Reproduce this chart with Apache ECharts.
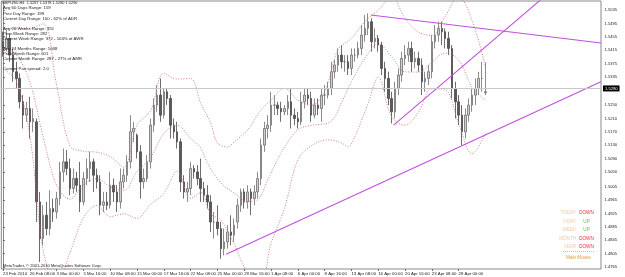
<!DOCTYPE html>
<html>
<head>
<meta charset="utf-8">
<script src="https://cdn.jsdelivr.net/npm/echarts@6/dist/echarts.min.js"></script>
<style>
html, body { margin: 0; padding: 0; background: #fff; }
#chart { width: 625px; height: 277px; }
</style>
</head>
<body>
<div id="chart"></div>
<script>
// GBPUSD, 8-hour bars (first bar 23 Feb 16:00)
var opens = [
  1.5440,1.5420,1.5450,1.5400,1.5350,1.5330,1.5260,1.5220,1.5240,1.5200,
  1.5200,1.4960,1.4850,1.4920,1.4880,1.4940,1.4930,1.4970,1.5050,1.5080,
  1.5060,1.5000,1.5030,1.5010,1.4960,1.5030,1.5060,1.5080,1.5040,1.5020,
  1.4950,1.4960,1.4950,1.5010,1.4990,1.4960,1.5020,1.5040,1.5080,1.5170,
  1.5160,1.5110,1.5020,1.5030,1.5080,1.5190,1.5250,1.5280,1.5220,1.5290,
  1.5270,1.5190,1.5170,1.5140,1.5020,1.4990,1.5000,1.5060,1.5050,1.5030,
  1.5000,1.4980,1.4960,1.4900,1.4900,1.4880,1.4820,1.4840,1.4870,1.4860,
  1.4900,1.4950,1.4990,1.4960,1.4990,1.4970,1.4990,1.5030,1.5130,1.5180,
  1.5190,1.5250,1.5250,1.5240,1.5230,1.5240,1.5260,1.5220,1.5210,1.5200,
  1.5260,1.5280,1.5270,1.5220,1.5250,1.5240,1.5280,1.5280,1.5300,1.5350,
  1.5370,1.5400,1.5380,1.5380,1.5360,1.5400,1.5400,1.5420,1.5460,1.5480,
  1.5500,1.5440,1.5450,1.5430,1.5360,1.5330,1.5270,1.5230,1.5300,1.5340,
  1.5390,1.5400,1.5420,1.5380,1.5390,1.5370,1.5320,1.5330,1.5350,1.5440,
  1.5460,1.5480,1.5470,1.5450,1.5420,1.5300,1.5260,1.5220,1.5170,1.5220,
  1.5250,1.5280,1.5300,1.5330,1.5287
];
var highs = [
  1.5470,1.5475,1.5465,1.5420,1.5380,1.5345,1.5280,1.5260,1.5275,1.5240,
  1.5210,1.4990,1.4950,1.4960,1.4995,1.4970,1.4990,1.5080,1.5120,1.5115,
  1.5090,1.5060,1.5050,1.5080,1.5050,1.5090,1.5110,1.5090,1.5060,1.5040,
  1.4990,1.4990,1.5050,1.5030,1.5010,1.5060,1.5060,1.5100,1.5220,1.5200,
  1.5165,1.5130,1.5060,1.5100,1.5210,1.5270,1.5310,1.5330,1.5300,1.5300,
  1.5280,1.5210,1.5200,1.5150,1.5040,1.5020,1.5080,1.5070,1.5070,1.5090,
  1.5020,1.5010,1.4980,1.4930,1.4950,1.4900,1.4880,1.4890,1.4920,1.4910,
  1.4970,1.5000,1.5000,1.5010,1.5000,1.5010,1.5050,1.5150,1.5200,1.5220,
  1.5290,1.5280,1.5260,1.5260,1.5250,1.5280,1.5300,1.5240,1.5230,1.5290,
  1.5300,1.5300,1.5290,1.5270,1.5270,1.5300,1.5310,1.5320,1.5380,1.5385,
  1.5420,1.5430,1.5400,1.5400,1.5420,1.5420,1.5440,1.5490,1.5520,1.5525,
  1.5510,1.5480,1.5460,1.5440,1.5380,1.5350,1.5290,1.5320,1.5360,1.5410,
  1.5430,1.5440,1.5440,1.5410,1.5410,1.5390,1.5350,1.5370,1.5460,1.5490,
  1.5500,1.5500,1.5480,1.5470,1.5430,1.5320,1.5280,1.5250,1.5240,1.5270,
  1.5300,1.5330,1.5350,1.5380,1.5378
];
var lows = [
  1.5395,1.5410,1.5380,1.5320,1.5300,1.5240,1.5180,1.5200,1.5150,1.5170,
  1.4900,1.4780,1.4830,1.4860,1.4860,1.4900,1.4910,1.4950,1.5020,1.5040,
  1.4980,1.4985,1.4990,1.4930,1.4950,1.5010,1.5020,1.4990,1.5000,1.4920,
  1.4930,1.4935,1.4940,1.4960,1.4930,1.4940,1.5000,1.5020,1.5060,1.5140,
  1.5090,1.4970,1.5000,1.5020,1.5060,1.5170,1.5230,1.5200,1.5210,1.5250,
  1.5150,1.5150,1.5120,1.4990,1.4970,1.4960,1.4980,1.5030,1.5010,1.4960,
  1.4960,1.4940,1.4870,1.4850,1.4860,1.4790,1.4800,1.4820,1.4830,1.4840,
  1.4880,1.4930,1.4940,1.4940,1.4920,1.4950,1.4970,1.5010,1.5110,1.5150,
  1.5170,1.5220,1.5220,1.5200,1.5220,1.5220,1.5180,1.5190,1.5180,1.5190,
  1.5240,1.5250,1.5200,1.5210,1.5220,1.5200,1.5250,1.5270,1.5280,1.5330,
  1.5350,1.5360,1.5350,1.5340,1.5340,1.5380,1.5390,1.5400,1.5440,1.5460,
  1.5410,1.5420,1.5410,1.5340,1.5290,1.5250,1.5195,1.5210,1.5280,1.5320,
  1.5370,1.5380,1.5350,1.5360,1.5350,1.5280,1.5290,1.5310,1.5330,1.5420,
  1.5440,1.5430,1.5420,1.5400,1.5270,1.5210,1.5190,1.5130,1.5150,1.5200,
  1.5230,1.5250,1.5280,1.5290,1.5280
];
var closes = [
  1.5420,1.5450,1.5400,1.5350,1.5330,1.5260,1.5220,1.5240,1.5200,1.5210,
  1.4960,1.4850,1.4920,1.4880,1.4940,1.4930,1.4970,1.5050,1.5080,1.5060,
  1.5000,1.5030,1.5010,1.4960,1.5030,1.5060,1.5080,1.5040,1.5020,1.4950,
  1.4960,1.4950,1.5010,1.4990,1.4960,1.5020,1.5040,1.5080,1.5170,1.5180,
  1.5110,1.5020,1.5030,1.5080,1.5190,1.5250,1.5280,1.5220,1.5290,1.5270,
  1.5190,1.5170,1.5140,1.5020,1.4990,1.5000,1.5060,1.5050,1.5030,1.5000,
  1.4980,1.4960,1.4900,1.4900,1.4880,1.4820,1.4840,1.4870,1.4860,1.4890,
  1.4950,1.4990,1.4960,1.4990,1.4970,1.4990,1.5030,1.5130,1.5180,1.5190,
  1.5250,1.5250,1.5240,1.5230,1.5240,1.5260,1.5220,1.5210,1.5200,1.5260,
  1.5280,1.5270,1.5220,1.5250,1.5240,1.5280,1.5280,1.5300,1.5350,1.5370,
  1.5400,1.5380,1.5380,1.5360,1.5400,1.5400,1.5420,1.5460,1.5480,1.5500,
  1.5440,1.5450,1.5430,1.5360,1.5330,1.5270,1.5230,1.5300,1.5340,1.5390,
  1.5400,1.5420,1.5380,1.5390,1.5370,1.5320,1.5330,1.5350,1.5440,1.5460,
  1.5480,1.5470,1.5450,1.5420,1.5300,1.5260,1.5220,1.5170,1.5220,1.5250,
  1.5280,1.5300,1.5330,1.5330,1.5290
];

// bollinger bands, [bar, price] read every few bars
var bandUpper = [
  [0,1.5480],[4,1.5480],[8,1.5480],[12,1.5494],[16,1.5310],[20,1.5128],[24,1.5112],
  [28,1.5109],[32,1.5096],[36,1.5064],[40,1.5191],[44,1.5232],[48,1.5345],[52,1.5328],
  [56,1.5330],[59,1.5256],[62,1.5196],[64,1.5137],[67,1.5125],[69,1.5140],[73,1.5176],
  [77,1.5235],[80,1.5265],[84,1.5300],[88,1.5265],[92,1.5250],[96,1.5290],[100,1.5416],
  [104,1.5450],[108,1.5500],[112,1.5534],[116,1.5575],[120,1.5510],[124,1.5469],
  [128,1.5459],[132,1.5516],[136,1.5575],[140,1.5504],[144,1.5365]
];
var bandMiddle = [
  [0,1.5420],[4,1.5400],[8,1.5320],[12,1.5154],[16,1.5010],[20,1.4968],[24,1.5012],
  [28,1.5029],[32,1.5006],[36,1.4994],[40,1.5051],[44,1.5092],[48,1.5165],[52,1.5190],
  [56,1.5150],[59,1.5122],[61,1.5077],[65,1.5017],[69,1.4987],[73,1.4962],[76,1.4966],
  [79,1.5026],[83,1.5107],[87,1.5167],[89,1.5182],[93,1.5191],[97,1.5196],[99,1.5214],
  [101,1.5256],[104,1.5320],[108,1.5390],[112,1.5434],[116,1.5395],[120,1.5350],
  [124,1.5349],[128,1.5379],[132,1.5406],[136,1.5385],[140,1.5304],[144,1.5265]
];
var bandLower = [
  [0,1.5360],[4,1.5320],[8,1.5160],[12,1.4814],[16,1.4710],[20,1.4808],[24,1.4912],
  [28,1.4949],[32,1.4916],[36,1.4924],[40,1.4911],[44,1.4952],[48,1.4985],[52,1.5052],
  [56,1.4970],[59,1.4988],[62,1.4924],[65,1.4906],[69,1.4834],[73,1.4748],[77,1.4725],
  [80,1.4835],[84,1.4940],[88,1.5085],[92,1.5128],[97,1.5146],[101,1.5137],[103,1.5125],
  [105,1.5155],[109,1.5256],[112,1.5334],[116,1.5215],[120,1.5190],[124,1.5229],
  [128,1.5299],[132,1.5296],[136,1.5195],[140,1.5104],[144,1.5165]
];

// hand drawn trend lines, [bar, price]
var trendSupport = [[66.6, 1.4803], [178.5, 1.5320]];
var trendResist = [[109.8, 1.5520], [178.5, 1.5436]];
var trendSteep = [[116.6, 1.5190], [170, 1.5647]];

var lastPrice = 1.5290;
var tickLabels = ['23 Feb 2010', '26 Feb 08:00', '3 Mar 00:00', '5 Mar 16:00', '10 Mar 08:00',
  '15 Mar 00:00', '17 Mar 16:00', '22 Mar 08:00', '25 Mar 00:00', '29 Mar 16:00', '1 Apr 08:00',
  '6 Apr 00:00', '8 Apr 16:00', '13 Apr 08:00', '16 Apr 00:00', '20 Apr 16:00', '23 Apr 08:00',
  '28 Apr 00:00'];
var priceLabels = [1.5535, 1.5495, 1.5455, 1.5415, 1.5375, 1.5335, 1.5250, 1.5210, 1.5170,
  1.5130, 1.5090, 1.5050, 1.5005, 1.4965, 1.4925, 1.4885, 1.4845, 1.4805, 1.4765];

var infoLines = [
  'GBPUSD,H4  1.5287 1.5378 1.5280 1.5290',
  'Avg 60 Days Range: 159',
  'Prev Day Range: 199',
  'Current Day Range: 100 - 62% of ADR',
  'Avg 26 Weeks Range: 355',
  'Prev Week Range: 282',
  'Current Week Range: 372 - 104% of AWR',
  'Avg 24 Months Range: 1048',
  'Prev Month Range: 601',
  'Current Month Range: 287 - 27% of AMR',
  'Current Pair spread: 2.0'
];
var infoY = [2.7, 8.3, 13.7, 19, 29.3, 34, 39, 48.7, 53.7, 59, 69.3];
var periods = ['TODAY', 'Y-DAY', 'WEEK', 'MONTH', 'YEAR'];
var moves = ['DOWN', 'UP', 'UP', 'DOWN', 'DOWN'];

// category axis: one slot per 8h bar, weekdays only
var months = ['Jan', 'Feb', 'Mar', 'Apr', 'May'];
var categories = [];
var t = Date.UTC(2010, 1, 23, 16);
while (categories.length < 179) {
  var d = new Date(t);
  var wd = d.getUTCDay();
  if (wd !== 0 && wd !== 6) {
    var hh = d.getUTCHours();
    categories.push(d.getUTCDate() + ' ' + months[d.getUTCMonth()] + ' ' + (hh < 10 ? '0' + hh : hh) + ':00');
  }
  t += 8 * 3600 * 1000;
}
categories[0] = tickLabels[0];

var ohlc = [];
for (var i = 0; i < opens.length; i++) {
  ohlc.push([opens[i], closes[i], lows[i], highs[i]]);
}

var FONT = '"Liberation Sans", Arial, sans-serif';
var showTick = function (idx, val) { return tickLabels.indexOf(val) >= 0; };

var graphics = [];
infoLines.forEach(function (s, k) {
  graphics.push({
    type: 'text', z: 100,
    style: {
      text: s, x: k === 0 ? 2 : 3, y: infoY[k], fill: '#1a1a1a',
      font: (k === 0 ? '3.9px ' : '4.3px ') + FONT, textVerticalAlign: 'middle'
    }
  });
});
var moveY = [213, 221.5, 230, 238.5, 247];
periods.forEach(function (p, k) {
  graphics.push({
    type: 'text', z: 100,
    style: { text: p, x: 576, y: moveY[k], fill: '#f3c7a8', font: '4.6px ' + FONT,
      textAlign: 'right', textVerticalAlign: 'middle' }
  });
  graphics.push({
    type: 'text', z: 100,
    style: { text: moves[k], x: 586.5, y: moveY[k], font: '4.6px ' + FONT,
      fill: moves[k] === 'UP' ? '#3ad83a' : '#ee2a3c', textAlign: 'center', textVerticalAlign: 'middle' }
  });
});
graphics.push({
  type: 'line', z: 100,
  shape: { x1: 563, y1: 251.5, x2: 594, y2: 251.5 },
  style: { stroke: '#e8a04a', lineWidth: 0.8, lineDash: [1, 1] }
});
graphics.push({
  type: 'text', z: 100,
  style: { text: 'Main Moves', x: 578.5, y: 257.5, fill: '#e39a32', font: '4.6px ' + FONT,
    textAlign: 'center', textVerticalAlign: 'middle' }
});
graphics.push({
  type: 'text', z: 100,
  style: { text: 'MetaTrader, \u00a9 2001-2010 MetaQuotes Software Corp.', x: 3, y: 265.5,
    fill: '#1a1a1a', font: '4.1px ' + FONT, textVerticalAlign: 'middle' }
});

var chart = echarts.init(document.getElementById('chart'), null, { renderer: 'canvas' });

var bandStyle = { type: [1, 1.6], width: 0.9, color: '#cf6f6f' };
var trendStyle = { width: 1.1, color: '#c24fe0' };

var option = {
  backgroundColor: '#ffffff',
  animation: false,
  grid: {
    left: 0, right: 24, top: 1, bottom: 8,
    show: true, borderColor: '#8a8a8a', borderWidth: 1, backgroundColor: '#ffffff'
  },
  xAxis: [
    {
      type: 'category',
      data: categories,
      boundaryGap: true,
      axisLine: { show: false },
      axisTick: { show: true, interval: showTick, alignWithLabel: true, length: 2,
        lineStyle: { color: '#555', width: 0.8 } },
      axisLabel: { show: true, interval: showTick, align: 'left', margin: 2.5,
        fontSize: 4.3, fontFamily: FONT, color: '#1a1a1a' },
      splitLine: { show: false }
    },
    {
      type: 'value', min: -0.5, max: 178.5, show: false
    }
  ],
  yAxis: {
    type: 'value',
    position: 'right',
    min: 1.4759,
    max: 1.5562,
    scale: true,
    axisLine: { show: true, lineStyle: { color: '#8a8a8a', width: 1 } },
    axisTick: { show: true, customValues: priceLabels, length: 2,
      lineStyle: { color: '#555', width: 0.8 } },
    axisLabel: { show: true, customValues: priceLabels, margin: 3.5, fontSize: 4.1,
      fontFamily: FONT, color: '#1a1a1a',
      formatter: function (v) { return v.toFixed(4); } },
    splitLine: { show: false }
  },
  graphic: graphics,
  series: [
    {
      type: 'candlestick',
      xAxisIndex: 0,
      data: ohlc,
      barWidth: 2,
      itemStyle: {
        color: '#cfcfcf', color0: '#5a5a5a',
        borderColor: '#6e6e6e', borderColor0: '#474747', borderWidth: 0.8
      },
      markLine: {
        silent: true,
        symbol: ['none', 'none'],
        lineStyle: { color: '#c9c9c9', width: 1, type: 'solid' },
        label: {
          show: true, position: 'end', distance: 2,
          formatter: function () { return lastPrice.toFixed(4); },
          backgroundColor: '#000', color: '#fff', fontSize: 4.1, fontFamily: FONT,
          padding: [1, 2]
        },
        data: [{ yAxis: lastPrice }]
      }
    },
    { type: 'line', xAxisIndex: 1, data: bandUpper, smooth: 0.35, showSymbol: false, lineStyle: bandStyle, clip: true, z: 3 },
    { type: 'line', xAxisIndex: 1, data: bandMiddle, smooth: 0.35, showSymbol: false, lineStyle: bandStyle, clip: true, z: 3 },
    { type: 'line', xAxisIndex: 1, data: bandLower, smooth: 0.35, showSymbol: false, lineStyle: bandStyle, clip: true, z: 3 },
    { type: 'line', xAxisIndex: 1, data: trendSupport, showSymbol: false, lineStyle: trendStyle, clip: true, z: 4 },
    { type: 'line', xAxisIndex: 1, data: trendResist, showSymbol: false, lineStyle: trendStyle, clip: true, z: 4 },
    { type: 'line', xAxisIndex: 1, data: trendSteep, showSymbol: false, lineStyle: trendStyle, clip: true, z: 4 }
  ]
};
chart.setOption(option);
</script>
</body>
</html>
